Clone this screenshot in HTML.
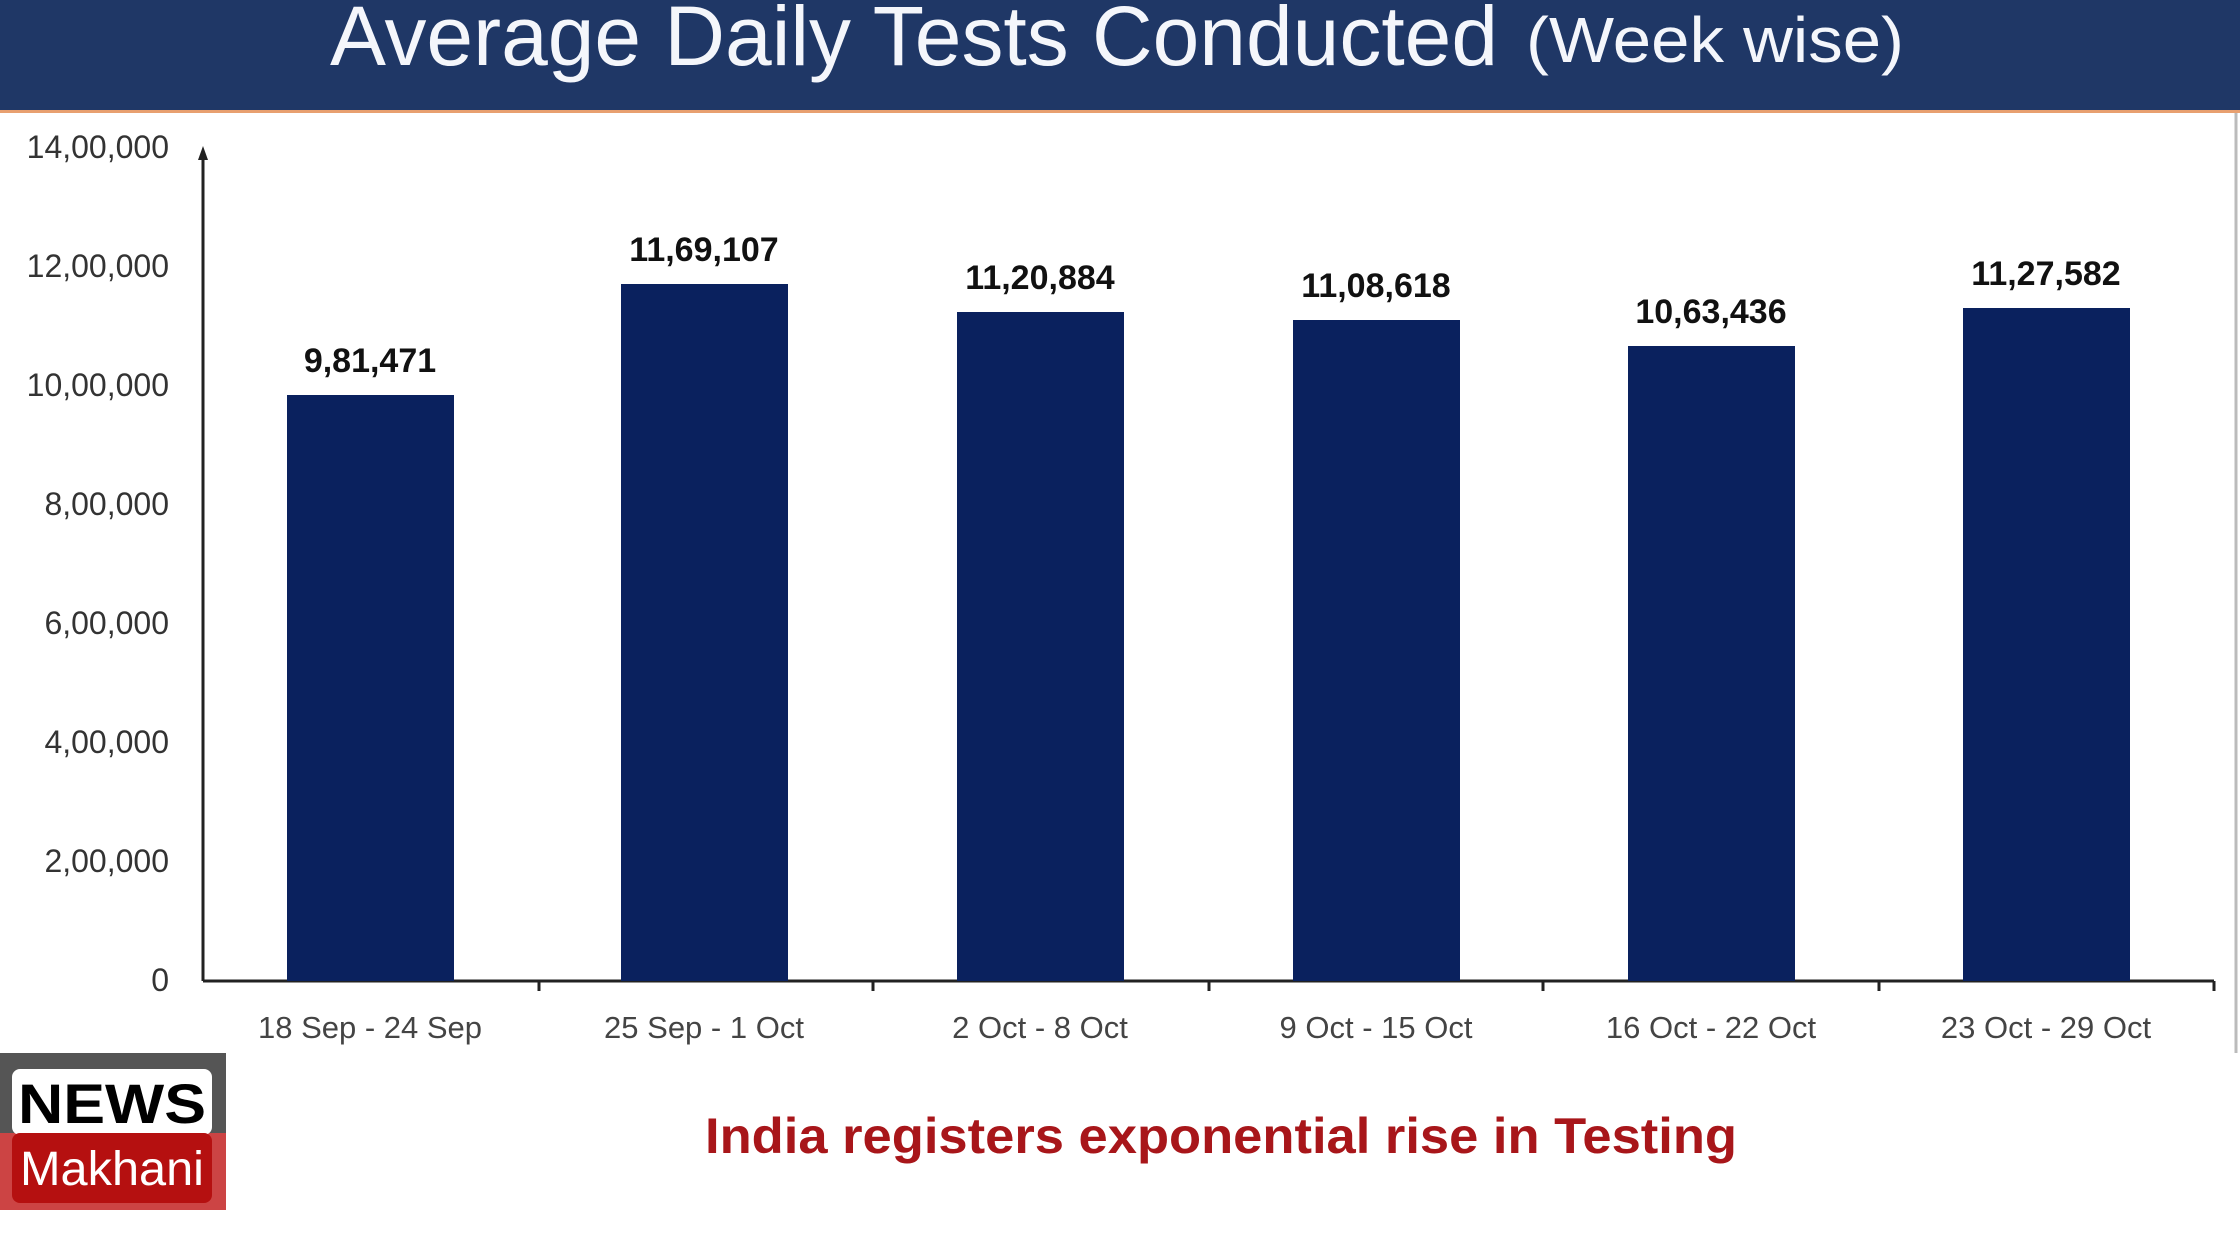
<!DOCTYPE html>
<html><head><meta charset="utf-8"><style>
html,body{margin:0;padding:0;background:#fff;}
svg{display:block;}
</style></head><body>
<svg width="2240" height="1260" viewBox="0 0 2240 1260" xmlns="http://www.w3.org/2000/svg" font-family="Liberation Sans, sans-serif">
<rect x="0" y="0" width="2240" height="1260" fill="#fff"/>
<rect x="0" y="0" width="2240" height="110" fill="#1f3766"/>
<rect x="0" y="110" width="2240" height="3" fill="#e8a070"/>
<text x="330" y="65" font-size="84" fill="#f4f6fb" textLength="1168" lengthAdjust="spacingAndGlyphs">Average Daily Tests Conducted</text>
<text x="1526" y="62" font-size="64" fill="#f4f6fb" textLength="378" lengthAdjust="spacingAndGlyphs">(Week wise)</text>
<line x1="2236" y1="113" x2="2236" y2="1053" stroke="#bbb" stroke-width="3"/>
<g font-size="32" fill="#333" text-anchor="end">
<text x="169" y="158">14,00,000</text>
<text x="169" y="277">12,00,000</text>
<text x="169" y="396">10,00,000</text>
<text x="169" y="515">8,00,000</text>
<text x="169" y="634">6,00,000</text>
<text x="169" y="753">4,00,000</text>
<text x="169" y="872">2,00,000</text>
<text x="169" y="991">0</text>
</g>
<line x1="203" y1="155" x2="203" y2="981" stroke="#222" stroke-width="3"/>
<polygon points="203,146 198,160 208,160" fill="#222"/>
<line x1="203" y1="981" x2="2214" y2="981" stroke="#222" stroke-width="3"/>
<g stroke="#222" stroke-width="3">
<line x1="539" y1="981" x2="539" y2="991"/><line x1="873" y1="981" x2="873" y2="991"/>
<line x1="1209" y1="981" x2="1209" y2="991"/><line x1="1543" y1="981" x2="1543" y2="991"/>
<line x1="1879" y1="981" x2="1879" y2="991"/><line x1="2214" y1="981" x2="2214" y2="991"/>
</g>
<g fill="#0a215e">
<rect x="287" y="395" width="167" height="586"/>
<rect x="621" y="284" width="167" height="697"/>
<rect x="957" y="312" width="167" height="669"/>
<rect x="1293" y="320" width="167" height="661"/>
<rect x="1628" y="346" width="167" height="635"/>
<rect x="1963" y="308" width="167" height="673"/>
</g>
<g font-size="34" font-weight="bold" fill="#111" text-anchor="middle">
<text x="370" y="372">9,81,471</text>
<text x="704" y="261">11,69,107</text>
<text x="1040" y="289">11,20,884</text>
<text x="1376" y="297">11,08,618</text>
<text x="1711" y="323">10,63,436</text>
<text x="2046" y="285">11,27,582</text>
</g>
<g font-size="31" fill="#444" text-anchor="middle">
<text x="370" y="1038">18 Sep - 24 Sep</text>
<text x="704" y="1038">25 Sep - 1 Oct</text>
<text x="1040" y="1038">2 Oct - 8 Oct</text>
<text x="1376" y="1038">9 Oct - 15 Oct</text>
<text x="1711" y="1038">16 Oct - 22 Oct</text>
<text x="2046" y="1038">23 Oct - 29 Oct</text>
</g>
<rect x="0" y="1053" width="226" height="157" fill="#c44"/>
<rect x="0" y="1053" width="226" height="80" fill="#555"/>
<rect x="12" y="1069" width="200" height="66" rx="8" fill="#fff"/>
<rect x="12" y="1133" width="200" height="70" rx="8" fill="#b51010"/>
<text x="112" y="1123" font-size="56" font-weight="bold" fill="#000" text-anchor="middle" textLength="188" lengthAdjust="spacingAndGlyphs">NEWS</text>
<text x="112" y="1185" font-size="48" fill="#fff" text-anchor="middle" textLength="184" lengthAdjust="spacingAndGlyphs">Makhani</text>
<text x="705" y="1153" font-size="50" font-weight="bold" fill="#a8161a" textLength="1032" lengthAdjust="spacingAndGlyphs">India registers exponential rise in Testing</text>
</svg>
</body></html>
